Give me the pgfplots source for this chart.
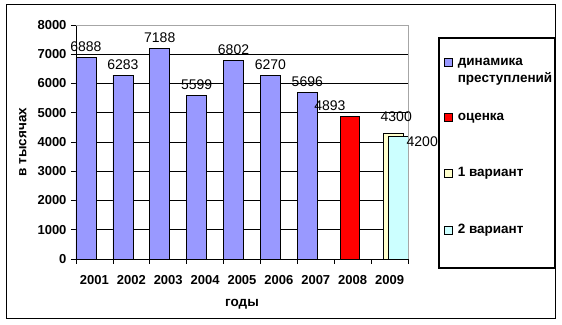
\documentclass[border=0pt]{standalone}
\usepackage{fontspec}
\setmainfont{Liberation Sans}
\usepackage{pgfplots}
\pgfplotsset{compat=1.18}
\definecolor{dyn}{HTML}{9999FF}
\definecolor{varA}{HTML}{FFFFCC}
\definecolor{varB}{HTML}{CCFFFF}
\newcommand{\lstrut}{\rule[-3pt]{0pt}{10pt}}
\begin{document}
\begin{tikzpicture}
\useasboundingbox (0pt,0pt) rectangle (562pt,324pt);
\draw[black, line width=1pt] (6pt,6pt) rectangle (555pt,319pt);
\begin{axis}[
  at={(76pt,65pt)}, anchor=south west,
  scale only axis, width=332pt, height=234pt,
  xmin=0, xmax=9, ymin=0, ymax=8000,
  clip=false,
  axis lines*=left,
  axis line style={black, line width=0.8pt},
  xtick={0,...,9},
  xticklabels={2001,2002,2003,2004,2005,2006,2007,2008,2009},
  x tick label as interval,
  ytick={0,1000,...,8000},
  tick align=outside,
  major tick length=5pt,
  tick style={black, line width=0.6pt},
  ymajorgrids,
  grid style={black, line width=0.6pt},
  /pgf/number format/1000 sep={},
  /pgf/number format/assume math mode=true,
  ticklabel style={font=\fontsize{13}{15}\selectfont\bfseries},
  xticklabel style={yshift=-8pt},
  yticklabel style={xshift=-1pt},
  xlabel={годы}, ylabel={в тысячах},
  every axis x label/.style={at={(rel axis cs:0.5,-0.192)}, anchor=center, font=\fontsize{13.5}{15}\selectfont\bfseries},
  every axis y label/.style={at={(rel axis cs:-0.16,0.5)}, rotate=90, anchor=center, font=\fontsize{13.5}{15}\selectfont\bfseries},
  legend cell align=left,
  legend image code/.code={\draw[#1, line width=0.6pt] (0pt,-4pt) rectangle (8pt,4pt);},
  legend style={at={(1.1084,0.859)}, anchor=north west, draw=none, fill=none,
    inner sep=0pt, row sep=46pt, column sep=5pt,
    nodes={inner sep=0pt, font=\fontsize{13.5}{17}\selectfont\bfseries}},
  every node near coord/.append style={font=\fontsize{14}{16}\selectfont, black},
]
% динамика преступлений
\addplot[ybar, bar width=0.54, bar shift=0pt, fill=dyn, draw=black, line width=0.6pt,
  nodes near coords, every node near coord/.append style={yshift=2pt}]
  coordinates {(0.27,6888) (1.27,6283) (2.27,7188) (3.27,5599) (4.27,6802) (5.27,6270) (6.27,5696)};
\addlegendentry{\smash{\parbox[t]{100pt}{динамика\\преступлений}}\lstrut}
% оценка
\addplot[ybar, bar width=0.5, bar shift=0pt, fill=red, draw=black, line width=0.6pt,
  nodes near coords, every node near coord/.append style={xshift=-20pt, yshift=2pt}]
  coordinates {(7.425,4893)};
\addlegendentry{оценка\lstrut}
% 1 вариант
\addplot[ybar, bar width=0.54, bar shift=0pt, fill=varA, draw=black, line width=0.6pt,
  nodes near coords, every node near coord/.append style={xshift=3pt, yshift=8pt}]
  coordinates {(8.6,4300)};
\addlegendentry{1 вариант\lstrut}
% 2 вариант
\addplot[ybar, bar width=0.54, bar shift=0pt, fill=varB, draw=black, line width=0.6pt,
  nodes near coords, every node near coord/.append style={anchor=west, xshift=5pt, yshift=-5.5pt}]
  coordinates {(8.73,4200)};
\addlegendentry{2 вариант\lstrut}
\draw[gray!70, line width=0.8pt] (rel axis cs:0,1) -- (rel axis cs:1,1) -- (rel axis cs:1,0);
\end{axis}
\draw[black, line width=1.5pt] (439pt,56pt) rectangle (555pt,286pt);
\end{tikzpicture}
\end{document}
